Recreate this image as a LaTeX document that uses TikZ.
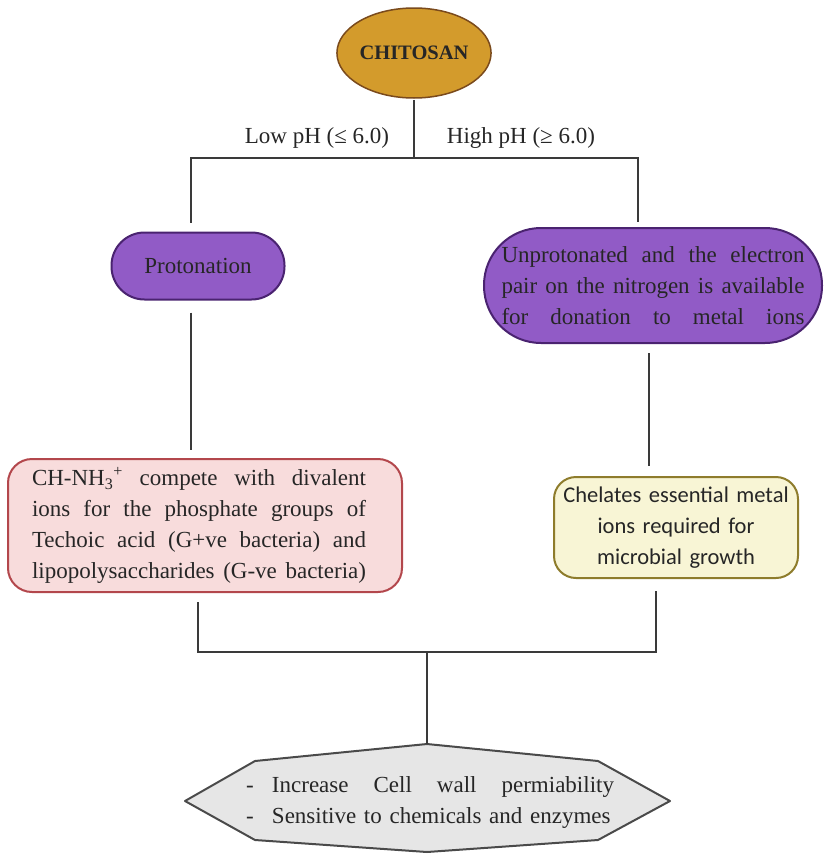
\documentclass[tikz,border=0pt]{standalone}
\usepackage{fontspec}
\setmainfont{Liberation Serif}
\newfontfamily\chelfont{Carlito}
\usetikzlibrary{shapes.geometric}

\definecolor{goldfill}{HTML}{D39B2C}
\definecolor{golddraw}{HTML}{7A4A1C}
\definecolor{purplefill}{HTML}{915BC6}
\definecolor{purpledraw}{HTML}{4A2370}
\definecolor{redfill}{HTML}{F8DCDC}
\definecolor{reddraw}{HTML}{B3474C}
\definecolor{yellowfill}{HTML}{F8F5D5}
\definecolor{yellowdraw}{HTML}{8E7C2C}
\definecolor{grayfill}{HTML}{E6E6E6}
\definecolor{graydraw}{HTML}{4A4A4A}
\definecolor{linegray}{HTML}{3A3A3A}

\tikzset{
  link/.style={draw=linegray, line width=2.5pt},
  txt/.style={font=\fontsize{23}{31}\selectfont, text=black!85},
  chitobox/.style={ellipse, draw=golddraw, fill=goldfill, line width=1.5pt,
    inner sep=0pt, minimum width=134pt, minimum height=90pt, txt,
    font=\bfseries\fontsize{20.5}{31}\selectfont},
  pill/.style={rectangle, draw=purpledraw, fill=purplefill, line width=2pt,
    inner sep=0pt, txt},
  redbox/.style={rectangle, rounded corners=24pt, draw=reddraw, fill=redfill,
    line width=2pt, inner sep=0pt, txt},
  yellowbox/.style={rectangle, rounded corners=22pt, draw=yellowdraw, fill=yellowfill,
    line width=2pt, inner sep=0pt, txt, font=\chelfont\fontsize{22.5}{31}\selectfont},
  lbl/.style={inner sep=0pt, txt}
}
\newcommand{\spreadline}[2]{\leavevmode\hbox to #1{\spaceskip=0.2em plus 1fil\xspaceskip=\spaceskip #2}}

\begin{document}
\begin{tikzpicture}[x=1pt,y=-1pt]
\useasboundingbox (0,0) rectangle (824,854);

\node[chitobox] (chitosan) at (414,53) {CHITOSAN};
\node[lbl] (lowph) at (317,138) {Low pH (≤ 6.0)};
\node[lbl] (highph) at (521,138) {High pH (≥ 6.0)};

\node[pill, rounded corners=33pt, minimum width=173pt, minimum height=67pt]
  (proto) at (198,266) {Protonation};
\node[pill, rounded corners=57pt, minimum width=338pt, minimum height=115pt,
  text width=303pt, align=left] (unprot) at (653,285.5)
  {\spreadline{303pt}{Unprotonated and the electron}\\
   \spreadline{303pt}{pair on the nitrogen is available}\\
   \spreadline{303pt}{for donation to metal ions}};

\node[redbox, minimum width=394pt, minimum height=133pt, text width=346pt, align=left]
  (red) at (205,525.5)
  {\spreadline{334pt}{CH-NH\textsubscript{3}\textsuperscript{+} compete with divalent}\\
   \spreadline{334pt}{ions for the phosphate groups of}\\
   \spreadline{334pt}{Techoic acid (G+ve bacteria) and}\\
   \spreadline{334pt}{lipopolysaccharides (G-ve bacteria)}};
\node[yellowbox, minimum width=244pt, minimum height=101pt, text width=236pt, align=center]
  (yellow) at (676,527.5)
  {Chelates essential metal\\ ions required for\\ microbial growth};

% effect shape
\draw[draw=graydraw, fill=grayfill, line width=2pt, line join=round]
  (185,801) -- (255,761) -- (427,744) -- (598,761) -- (670,801)
  -- (598,840) -- (427,852) -- (255,840) -- cycle;
\coordinate (effecttop) at (427,744);
\node[lbl, text width=368pt, align=left] (effect) at (430,802)
  {\spreadline{26pt}{-\hfil}\spreadline{342pt}{Increase Cell wall permiability}\\
   \spreadline{26pt}{-\hfil}Sensitive to chemicals and enzymes};

% connectors
\coordinate (split) at (414,158);
\coordinate (merge) at (427,652);
\draw[link, shorten <=1pt] (chitosan.south) -- (split);
\draw[link, shorten >=9pt] (split) -| ([xshift=-7pt]proto.north);
\draw[link, shorten >=5pt] (split) -| ([xshift=-15pt]unprot.north);
\draw[link, shorten <=12pt, shorten >=8pt] ([xshift=-7pt]proto.south) -- ([xshift=-7pt]proto.south |- red.north);
\draw[link, shorten <=9pt, shorten >=10pt] ([xshift=-4pt]unprot.south) -- ([xshift=-4pt]unprot.south |- yellow.north);
\draw[link, shorten <=9pt] ([xshift=-7pt]red.south) |- (merge);
\draw[link, shorten <=12pt] ([xshift=-20pt]yellow.south) |- (merge);
\draw[link] (merge) -- (effecttop);
\end{tikzpicture}
\end{document}
